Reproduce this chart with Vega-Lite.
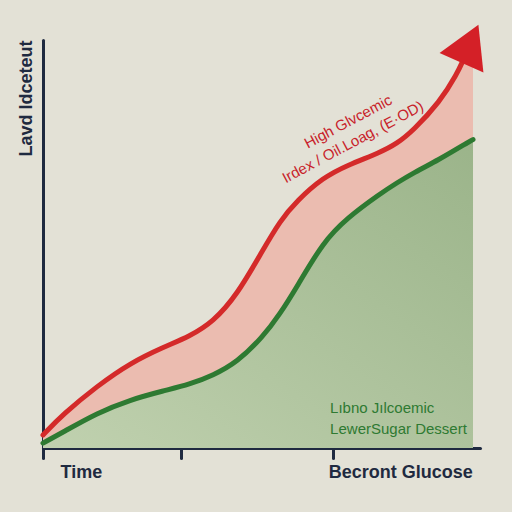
{
  "$schema": "https://vega.github.io/schema/vega-lite/v6.json",
  "autosize": "none",
  "width": 437,
  "height": 408,
  "padding": {"left": 43, "top": 40, "right": 32, "bottom": 64},
  "background": "#e3e1d6",
  "config": {"view": {"stroke": null}},
  "datasets": {
    "curves": [
      {"t": 0, "high": 3.2, "low": 1.2},
      {"t": 4.6, "high": 8.3, "low": 3.9},
      {"t": 12.4, "high": 15.2, "low": 8.6},
      {"t": 19.9, "high": 20.8, "low": 11.8},
      {"t": 27.5, "high": 24.7, "low": 14.0},
      {"t": 33.6, "high": 27.4, "low": 15.6},
      {"t": 38.9, "high": 30.9, "low": 17.8},
      {"t": 44.4, "high": 37.5, "low": 21.0},
      {"t": 50.3, "high": 48.5, "low": 27.2},
      {"t": 54.2, "high": 55.6, "low": 32.8},
      {"t": 58.1, "high": 60.6, "low": 39.5},
      {"t": 64.1, "high": 66.3, "low": 50.5},
      {"t": 69.6, "high": 69.3, "low": 56.4},
      {"t": 77.1, "high": 72.4, "low": 62.3},
      {"t": 81.0, "high": 74.6, "low": 65.0},
      {"t": 84.7, "high": 77.8, "low": 67.4},
      {"t": 90.8, "high": 84.8, "low": 70.8},
      {"t": 94.7, "high": 91.6, "low": 73.3},
      {"t": 96.3, "high": 95.4, "low": 74.3},
      {"t": 98.4, "high": 96.0, "low": 75.6}
    ],
    "arrow": [{"t": 97.7, "v": 99.1}],
    "notes": [
      {"t": 69.8, "v": 80.0, "label": "High Glvcemic", "group": "high"},
      {"t": 70.9, "v": 75.0, "label": "Irdex / Oil.Loag, (E·OD)", "group": "high"},
      {"t": 65.7, "v": 9.8, "label": "Lıbno Jılcoemic", "group": "low"},
      {"t": 65.7, "v": 4.7, "label": "LewerSugar Dessert", "group": "low"}
    ]
  },
  "layer": [
    {
      "data": {"name": "curves"},
      "mark": {"type": "area", "interpolate": "basis", "color": {"gradient": "linear", "x1": 1, "y1": 0, "x2": 0, "y2": 1, "stops": [{"offset": 0, "color": "#9bb48a"}, {"offset": 1, "color": "#c0d1af"}]}},
      "encoding": {
        "x": {"field": "t", "type": "quantitative", "scale": {"domain": [0, 100], "nice": false, "zero": false},
          "axis": {"values": [0, 31.6, 66.4], "domainColor": "#1f2a40", "domainWidth": 3, "domainCap": "round", "tickColor": "#1f2a40", "tickWidth": 3, "tickSize": 10, "tickCap": "round", "grid": false, "title": null,
            "labelExpr": "datum.value < 1 ? 'Time' : (datum.value > 60 ? 'Becront Glucose' : '')",
            "labelAlign": "left", "labelOverlap": false, "labelBound": false, "labelFlush": false,
            "labelOffset": {"condition": {"test": "datum.value < 1", "value": 17}, "value": -5},
            "labelFont": "Liberation Sans", "labelFontSize": 18, "labelFontWeight": "bold", "labelColor": "#1f2a40", "labelPadding": 5}},
        "y": {"field": "low", "type": "quantitative", "scale": {"domain": [0, 100], "nice": false},
          "axis": {"title": "Lavd Idceteut", "titleAnchor": "end", "titleFont": "Liberation Sans", "titleFontSize": 18, "titleFontWeight": "bold", "titleColor": "#1f2a40", "titlePadding": 8, "labels": false, "ticks": false, "grid": false, "domainColor": "#1f2a40", "domainWidth": 3, "domainCap": "round"}}
      }
    },
    {
      "data": {"name": "curves"},
      "mark": {"type": "area", "interpolate": "basis", "color": "#ebbcb0"},
      "encoding": {
        "x": {"field": "t", "type": "quantitative"},
        "y": {"field": "high", "type": "quantitative"},
        "y2": {"field": "low"}
      }
    },
    {
      "data": {"name": "curves"},
      "transform": [{"filter": "datum.t < 97"}],
      "mark": {"type": "line", "interpolate": "basis", "color": "#d42a2a", "strokeWidth": 5, "strokeCap": "round"},
      "encoding": {
        "x": {"field": "t", "type": "quantitative"},
        "y": {"field": "high", "type": "quantitative"}
      }
    },
    {
      "data": {"name": "curves"},
      "mark": {"type": "line", "interpolate": "basis", "color": "#2e7a32", "strokeWidth": 5, "strokeCap": "round"},
      "encoding": {
        "x": {"field": "t", "type": "quantitative"},
        "y": {"field": "low", "type": "quantitative"}
      }
    },
    {
      "data": {"name": "arrow"},
      "mark": {"type": "point", "shape": "triangle-up", "filled": true, "color": "#d42027", "opacity": 1, "size": 2304, "angle": 24},
      "encoding": {
        "x": {"field": "t", "type": "quantitative"},
        "y": {"field": "v", "type": "quantitative"}
      }
    },
    {
      "data": {"name": "notes"},
      "transform": [{"filter": "datum.group == 'high'"}],
      "mark": {"type": "text", "font": "Liberation Sans", "fontSize": 15, "color": "#c8232b", "angle": -28, "align": "center", "baseline": "middle"},
      "encoding": {
        "x": {"field": "t", "type": "quantitative"},
        "y": {"field": "v", "type": "quantitative"},
        "text": {"field": "label"}
      }
    },
    {
      "data": {"name": "notes"},
      "transform": [{"filter": "datum.group == 'low'"}],
      "mark": {"type": "text", "font": "Liberation Sans", "fontSize": 15, "color": "#2e7a32", "align": "left", "baseline": "middle"},
      "encoding": {
        "x": {"field": "t", "type": "quantitative"},
        "y": {"field": "v", "type": "quantitative"},
        "text": {"field": "label"}
      }
    }
  ]
}
